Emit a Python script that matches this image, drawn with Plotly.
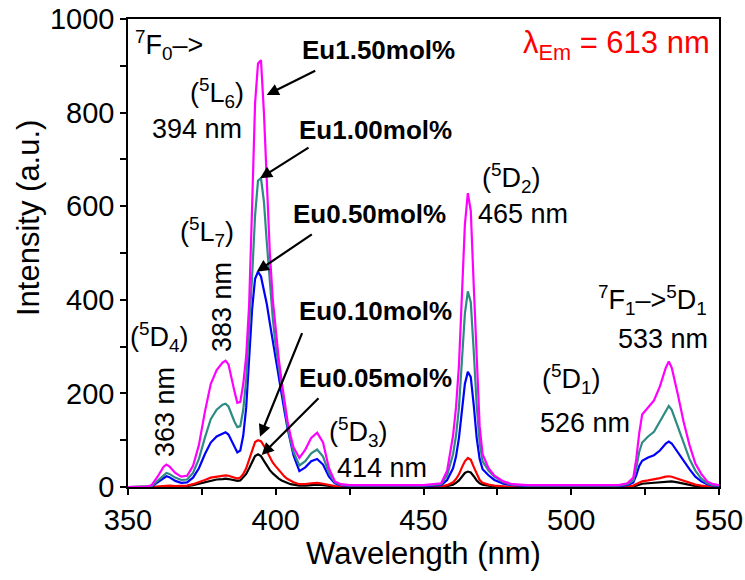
import plotly.graph_objects as go

wavelength = [350, 356, 358, 360, 362, 363, 364, 366, 368, 370,
              372, 374, 376, 378, 380, 382, 383, 384, 386, 387,
              388, 389, 390, 391, 392, 393, 394, 395, 396, 397,
              398, 399, 400, 401, 402, 403, 404, 405, 406, 408,
              410, 412, 414, 416, 418, 420, 422, 425, 430, 440,
              450, 456, 458, 460, 461, 462, 463, 464, 465, 466,
              467, 468, 469, 470, 472, 474, 477, 480, 485, 490,
              500, 510, 516, 519, 521, 522, 523, 524, 526, 528,
              530, 532, 533, 534, 536, 538, 540, 542, 544, 546,
              548, 550]

eu150 = [0, 0, 4, 22, 43, 48, 44, 30, 22, 24,
         45, 90, 160, 220, 250, 266, 270, 262, 205, 180,
         182, 220, 280, 390, 600, 820, 905, 912, 800, 650,
         500, 400, 330, 275, 225, 180, 140, 110, 85, 62,
         80, 105, 116, 95, 40, 12, 6, 4, 4, 4,
         4, 8, 35, 110, 170, 260, 400, 560, 628, 590,
         430, 260, 130, 70, 40, 24, 12, 6, 4, 4,
         4, 4, 4, 8, 20, 60, 115, 155, 170, 185,
         215, 255, 268, 255, 200, 140, 90, 50, 28, 12,
         6, 4]

eu100 = [0, 0, 2, 14, 26, 30, 28, 20, 15, 16,
         30, 60, 105, 145, 165, 176, 178, 172, 140, 128,
         130, 165, 230, 330, 450, 580, 655, 660, 610, 520,
         430, 360, 300, 255, 210, 170, 130, 100, 75, 46,
         55, 72, 80, 65, 30, 10, 5, 3, 3, 3,
         3, 6, 25, 70, 110, 170, 265, 370, 418, 395,
         290, 175, 95, 55, 35, 22, 10, 5, 3, 3,
         3, 3, 3, 6, 14, 40, 75, 95, 108, 118,
         140, 165, 173, 165, 130, 92, 60, 35, 18, 8,
         4, 3]

eu050 = [0, 0, 1, 10, 20, 23, 21, 13, 9, 10,
         20, 40, 70, 95, 108, 115, 117, 112, 88, 74,
         78, 110, 170, 280, 380, 445, 460, 450, 420, 390,
         350, 310, 275, 235, 195, 160, 125, 95, 68, 34,
         42, 55, 60, 48, 22, 8, 4, 2, 2, 2,
         2, 4, 15, 40, 65, 105, 160, 220, 246, 235,
         175, 105, 60, 38, 25, 15, 7, 4, 2, 2,
         2, 2, 2, 4, 10, 25, 45, 56, 63, 68,
         78, 93, 97, 93, 75, 55, 38, 22, 12, 6,
         3, 2]

eu010 = [0, 0, 0, 1, 2, 3, 3, 2, 2, 3,
         6, 10, 15, 20, 22, 24, 25, 24, 20, 18,
         20, 28, 40, 58, 80, 96, 100, 98, 88, 75,
         62, 52, 44, 36, 28, 22, 17, 13, 10, 6,
         6, 8, 9, 7, 4, 2, 1, 0, 0, 0,
         0, 1, 4, 10, 17, 27, 42, 55, 62, 58,
         43, 27, 15, 9, 5, 3, 1, 0, 0, 0,
         0, 0, 0, 1, 3, 6, 10, 12, 14, 16,
         19, 22, 23, 22, 18, 13, 9, 5, 3, 1,
         0, 0]

eu005 = [0, 0, 0, 1, 1, 2, 2, 1, 1, 2,
         4, 7, 11, 14, 16, 17, 18, 17, 14, 13,
         14, 20, 28, 40, 55, 66, 70, 66, 56, 45,
         36, 29, 23, 18, 14, 11, 8, 6, 5, 3,
         3, 4, 5, 4, 2, 1, 0, 0, 0, 0,
         0, 0, 2, 5, 9, 14, 22, 30, 33, 31,
         23, 14, 8, 5, 3, 1, 0, 0, 0, 0,
         0, 0, 0, 0, 1, 3, 5, 7, 8, 9,
         11, 12, 13, 12, 10, 7, 4, 2, 1, 0,
         0, 0]

series = [
    ("Eu0.05mol%", eu005, "#000000"),
    ("Eu0.10mol%", eu010, "#FF0000"),
    ("Eu0.50mol%", eu050, "#0000FF"),
    ("Eu1.00mol%", eu100, "#2E8B83"),
    ("Eu1.50mol%", eu150, "#FF00FF"),
]

x_ticks = [350, 400, 450, 500, 550]
y_ticks = [0, 200, 400, 600, 800, 1000]

fig = go.Figure()
for name, vals, col in series:
    fig.add_trace(go.Scatter(x=wavelength, y=vals, mode="lines", name=name,
                             line=dict(color=col, width=2.2)))

# plot area in pixels
L, R, T, B = 128, 719, 19, 487
W, H = 745, 580


def px(xp, yp):
    return (xp - L) / (R - L), (B - yp) / (B - T)


FONT = "Arial, Liberation Sans, sans-serif"
ann = []


def label(text, xp, yp, size=27, color="black", bold=False, angle=0, xanchor="left"):
    xx, yy = px(xp, yp)
    t = "<b>" + text + "</b>" if bold else text
    ann.append(dict(text=t, x=xx, y=yy, xref="paper", yref="paper", showarrow=False,
                    xanchor=xanchor, yanchor="middle", textangle=angle,
                    font=dict(family=FONT, size=size, color=color)))


label("<sup>7</sup>F<sub>0</sub>–>", 133, 45)
label("(<sup>5</sup>L<sub>6</sub>)", 188, 93)
label("394 nm", 150, 129)
label("(<sup>5</sup>L<sub>7</sub>)", 178, 232)
label("383 nm", 222, 307, angle=-90, xanchor="center")
label("(<sup>5</sup>D<sub>4</sub>)", 128, 337)
label("363 nm", 165, 412, angle=-90, xanchor="center")
label("(<sup>5</sup>D<sub>3</sub>)", 327, 432)
label("414 nm", 335, 468)
label("(<sup>5</sup>D<sub>2</sub>)", 480, 178)
label("465 nm", 476, 214)
label("<sup>7</sup>F<sub>1</sub>–><sup>5</sup>D<sub>1</sub>", 596, 300)
label("533 nm", 616, 339)
label("(<sup>5</sup>D<sub>1</sub>)", 540, 379)
label("526 nm", 538, 423)
label("λ<sub>Em</sub> = 613 nm", 521, 45, size=31, color="#FF0000")
label("Intensity (a.u.)", 28, 218, size=31, angle=-90, xanchor="center")

eu_labels = [
    ("Eu1.50mol%", 300, 50, (316.7, 70), (266.7, 95)),
    ("Eu1.00mol%", 297, 130, (310, 146.7), (260, 178.3)),
    ("Eu0.50mol%", 291, 214, (313.3, 233.3), (256.7, 271.7)),
    ("Eu0.10mol%", 297, 311, (302.7, 331.7), (260, 436.7)),
    ("Eu0.05mol%", 297, 378, (320, 396.7), (261.7, 455)),
]
for txt, xp, yp, tail, head in eu_labels:
    label(txt, xp, yp, size=26, bold=True)
    hx, hy = px(*head)
    ann.append(dict(x=hx, y=hy, xref="paper", yref="paper", text="",
                    showarrow=True, arrowhead=2, arrowsize=1.1, arrowwidth=2.2,
                    arrowcolor="black", ax=tail[0] - head[0], ay=tail[1] - head[1],
                    axref="pixel", ayref="pixel"))

fig.update_layout(
    width=W, height=H,
    margin=dict(l=L, r=W - R, t=T, b=H - B),
    paper_bgcolor="white", plot_bgcolor="white",
    showlegend=False,
    annotations=ann,
    font=dict(family=FONT, color="black"),
)
fig.update_xaxes(range=[350, 550], tickvals=x_ticks, ticks="outside", ticklen=6,
                 tickwidth=1.5, tickcolor="black", showline=True, linecolor="black",
                 linewidth=1.5, mirror=True, showgrid=False, zeroline=False,
                 automargin=False,
                 tickfont=dict(size=29, family=FONT),
                 minor=dict(dtick=25, tick0=350, ticks="outside", ticklen=6,
                            tickwidth=1.5, tickcolor="black", showgrid=False),
                 title=dict(text="Wavelength (nm)", font=dict(size=31, family=FONT),
                            standoff=6))
fig.update_yaxes(range=[0, 1000], tickvals=y_ticks, ticks="outside", ticklen=6,
                 tickwidth=1.5, tickcolor="black", showline=True, linecolor="black",
                 linewidth=1.5, mirror=True, showgrid=False, zeroline=False,
                 automargin=False,
                 tickfont=dict(size=29, family=FONT),
                 minor=dict(dtick=100, tick0=0, ticks="outside", ticklen=6,
                            tickwidth=1.5, tickcolor="black", showgrid=False))

fig.write_html("out.html")
